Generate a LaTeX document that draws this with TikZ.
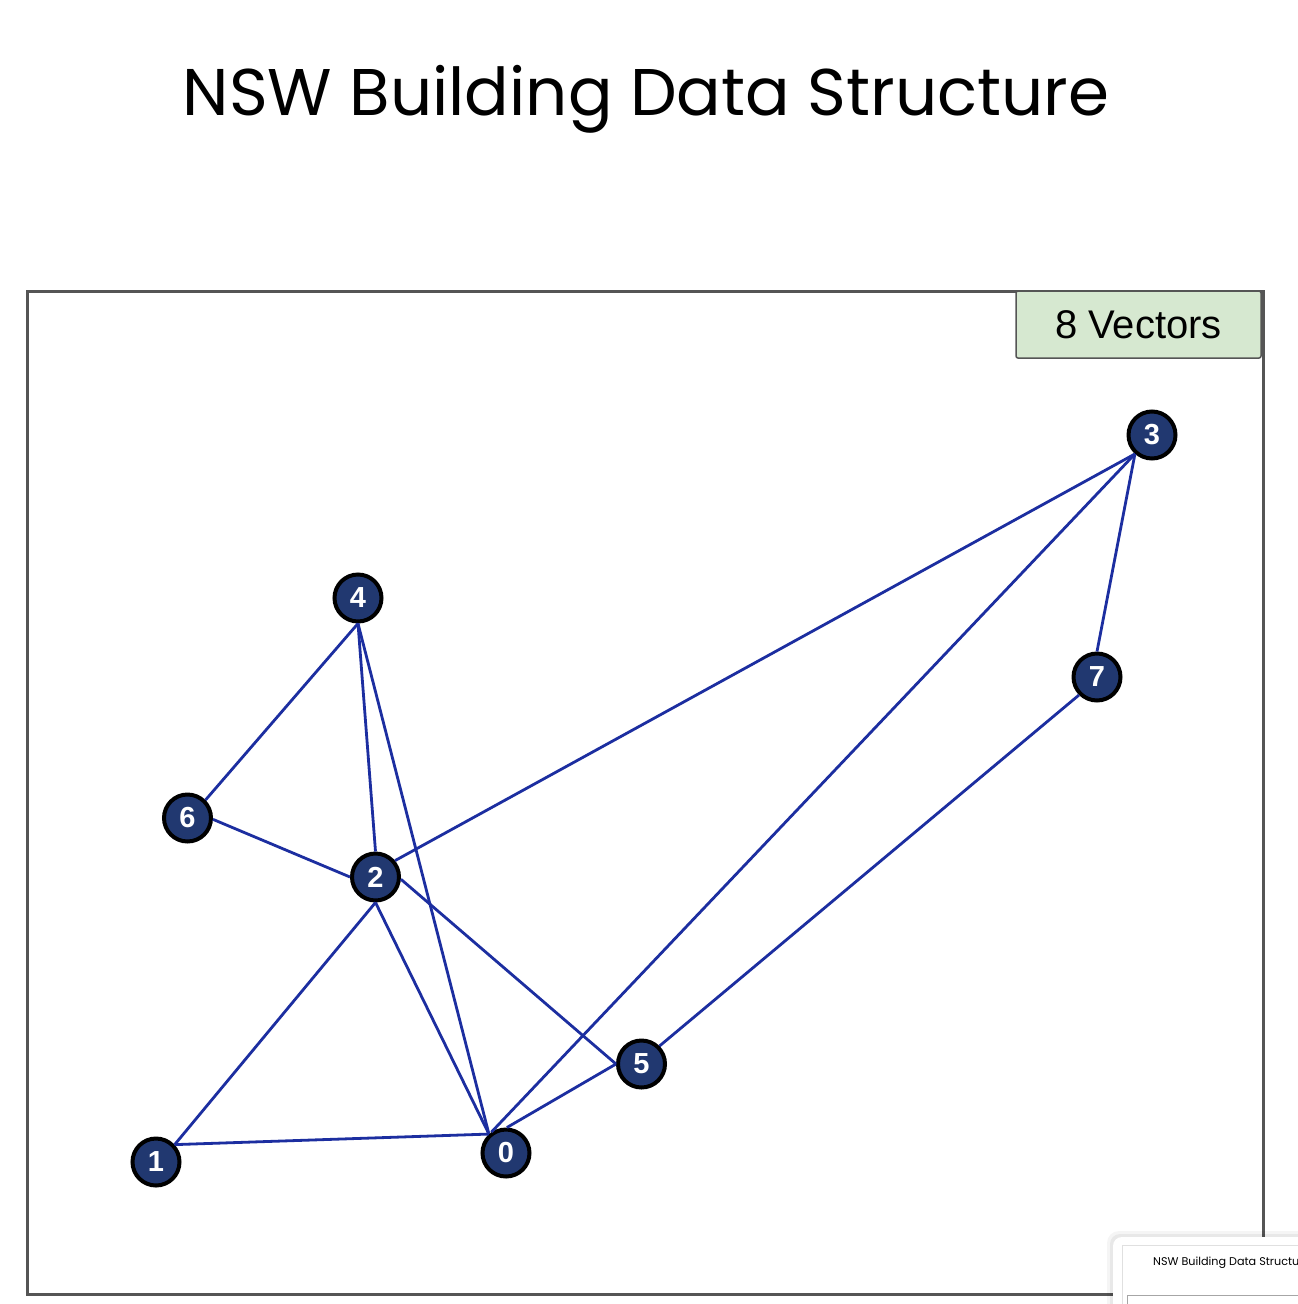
\documentclass[tikz,border=0pt]{standalone}
\usepackage{fontspec}
\setmainfont{Liberation Sans}
\newfontfamily\poppins{Poppins}
\definecolor{navy}{RGB}{33,56,112}
\definecolor{edgeblue}{RGB}{28,46,160}
\definecolor{framegray}{RGB}{85,85,85}
\definecolor{boxgreen}{RGB}{214,232,208}
\tikzset{
  vtx/.style={circle, draw=black, fill=navy, line width=4pt, minimum size=47pt, inner sep=0pt,
    text=white, font=\fontsize{29}{29}\selectfont\bfseries},
  link/.style={draw=edgeblue, line width=2.8pt},
}
\begin{document}
\begin{tikzpicture}[x=1pt,y=-1pt]
\useasboundingbox (0,0) rectangle (1298,1304);
\fill[white] (0,0) rectangle (1298,1304);
% title
\node[anchor=base, font=\poppins\fontsize{66}{66}\selectfont, inner sep=0pt] (title) at (646,115) {NSW Building Data Structure};
% frame
\draw[framegray, line width=3pt] (27,291) rectangle (1263,1294);
% legend box
\node[draw=framegray, line width=1.5pt, fill=boxgreen, rounded corners=2pt, minimum width=245pt, minimum height=67pt, inner sep=0pt,
  font=\fontsize{40}{40}\selectfont] (legend) at (1138.5,324.5) {8 Vectors};
% nodes
\node[vtx] (n0) at (506,1153) {0};
\node[vtx] (n1) at (156,1162) {1};
\node[vtx] (n2) at (375.5,877) {2};
\node[vtx] (n3) at (1152,435) {3};
\node[vtx] (n4) at (358,598) {4};
\node[vtx] (n5) at (641.5,1064) {5};
\node[vtx] (n6) at (187.5,818) {6};
\node[vtx] (n7) at (1097,677) {7};
% edges
\draw[link] (n1.43) -- (n0.132);
\draw[link] (n1.43) -- (n2.270);
\draw[link] (n2.270) -- (n0.132);
\draw[link] (n4.270) -- (n0.132);
\draw[link] (n4.270) -- (n2.90);
\draw[link] (n4.270) -- (n6.45);
\draw[link] (n6.357) -- (n2.180);
\draw[link] (n2.40) -- (n3.228);
\draw[link] (n2.355) -- (n5.180);
\draw[link] (n0.88) -- (n5.180);
\draw[link] (n0.125) -- (n3.228);
\draw[link] (n3.228) -- (n7.90);
\draw[link] (n7.225) -- (n5.45);
% overlay thumbnail (bottom right)
\fill[black, opacity=0.04, rounded corners=12pt] (1107,1231) rectangle (1320,1330);
\fill[black, opacity=0.05, rounded corners=10pt] (1110,1234) rectangle (1320,1330);
\fill[white, rounded corners=9pt] (1113,1237) rectangle (1320,1330);
\draw[black!12, line width=1pt] (1122,1245) rectangle (1320,1330);
\begin{scope}
\clip (1113,1237) rectangle (1298,1304);
\node[anchor=base west, font=\poppins\fontsize{11.2}{11.2}\selectfont, inner sep=0pt] (thumb) at (1153,1265) {NSW Building Data Structure};
\end{scope}
\draw[black!35, line width=1pt] (1127,1295) rectangle (1320,1330);
\end{tikzpicture}
\end{document}
